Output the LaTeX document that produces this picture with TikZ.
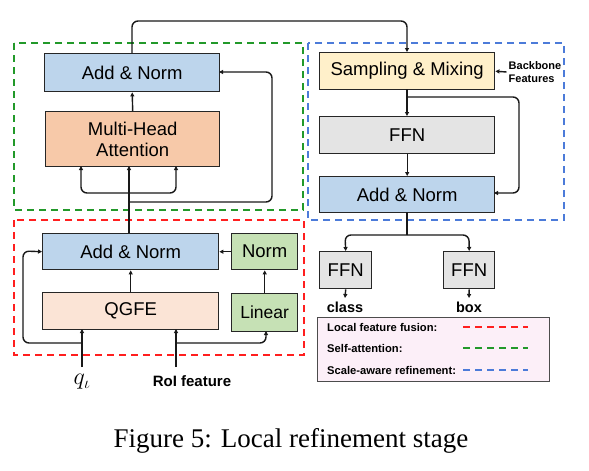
\RequirePackage{fix-cm}
\documentclass[tikz,border=0pt]{standalone}
\usepackage{fontspec}
\setmainfont{Liberation Serif}
\setsansfont{Liberation Sans}
\usetikzlibrary{arrows.meta}
\definecolor{anblue}{HTML}{BDD5EC}
\definecolor{mhaor}{HTML}{F7C9A9}
\definecolor{smyel}{HTML}{FFF0CA}
\definecolor{ffngr}{HTML}{E4E4E4}
\definecolor{qgpe}{HTML}{FBE4D6}
\definecolor{grn}{HTML}{C6E1B5}
\definecolor{legpk}{HTML}{FCEFF8}
\definecolor{dred}{HTML}{FF1F1F}
\definecolor{dgreen}{HTML}{22992A}
\definecolor{dblue}{HTML}{4C7BD9}
\begin{document}
\begin{tikzpicture}[x=1pt,y=-1pt,
  blk/.style={draw=black!85,line width=1.4pt,inner sep=0pt,align=center,
    font=\sffamily\fontsize{18.5}{21}\selectfont},
  conn/.style={line width=1.4pt,black!90,rounded corners=6pt},
  arr/.style={conn,-{Triangle[length=4pt,width=4pt]}},
  grp/.style={line width=1.8pt,dash pattern=on 7pt off 5pt},
  lbl/.style={font=\sffamily\bfseries\fontsize{14.5}{16}\selectfont,inner sep=0pt},
  legt/.style={font=\sffamily\bfseries\fontsize{11.2}{13}\selectfont,anchor=west,inner sep=0pt}]
\useasboundingbox (0,0) rectangle (589,471);
\fill[white] (0,0) rectangle (589,471);
% group boxes
\draw[grp,dgreen] (14,43) rectangle (303,210);
\draw[grp,dblue] (308,43) rectangle (564,220);
\draw[grp,dred] (14,220) rectangle (304,355);
% self attention
\node[blk,fill=anblue,minimum width=175pt,minimum height=38pt,anchor=north west] (an1) at (44,53) {Add \& Norm};
\node[blk,fill=mhaor,minimum width=174pt,minimum height=55pt,anchor=north west] (mha) at (45,111) {Multi-Head\\Attention};
% local feature fusion
\node[blk,fill=anblue,minimum width=176pt,minimum height=36pt,anchor=north west] (an0) at (42,233) {Add \& Norm};
\node[blk,fill=qgpe,minimum width=176pt,minimum height=37pt,anchor=north west] (qgfe) at (42,292) {QGFE};
\node[blk,fill=grn,minimum width=66pt,minimum height=36pt,anchor=north west] (norm) at (231,233) {Norm};
\node[blk,fill=grn,minimum width=66pt,minimum height=38pt,anchor=north west,font=\sffamily\fontsize{17.5}{20}\selectfont] (lin) at (231,293) {Linear};
% scale-aware
\node[blk,fill=smyel,minimum width=175pt,minimum height=37pt,anchor=north west] (sm) at (319,52) {Sampling \& Mixing};
\node[blk,fill=ffngr,minimum width=175pt,minimum height=37pt,anchor=north west] (ffn) at (319,116) {FFN};
\node[blk,fill=anblue,minimum width=175pt,minimum height=36pt,anchor=north west] (an2) at (319,176) {Add \& Norm};
\node[blk,fill=ffngr,minimum width=52pt,minimum height=37pt,anchor=north west] (ffnc) at (319,251) {FFN};
\node[blk,fill=ffngr,minimum width=51pt,minimum height=37pt,anchor=north west] (ffnb) at (443,251) {FFN};
% labels
\node[font=\fontsize{24}{28}\selectfont,inner sep=0pt] (ql) at (82,382) {$q_\iota$};
\node[lbl,font=\sffamily\bfseries\fontsize{15}{17}\selectfont] (roi) at (192,381) {RoI feature};
\node[lbl] (cls) at (345,307) {class};
\node[lbl] (box) at (469,307) {box};
\node[font=\sffamily\bfseries\fontsize{11}{13}\selectfont,align=left,inner sep=0pt] (bb) at (535,72) {Backbone\\Features};
% coordinates
\coordinate (qin) at (82,367);
\coordinate (rin) at (176,367);
\coordinate (split) at (407,235);
\coordinate (cc) at (345,298);
\coordinate (bc) at (469,298);
% local fusion connectors
\draw[arr] (qin) -- (82,329);
\draw[arr] (82,343) -- (23,343) -- (23,251) -- (an0.west);
\draw[arr] (rin) -- (176,329);
\draw[arr] (176,343) -- (266,343) -- (266,331);
\draw[arr] (lin.north) -- (norm.south);
\draw[arr] (norm.west) -- (an0.east);
\draw[arr] (qgfe.north) -- (an0.south);
% self attention connectors
\draw[arr] (129,233) -- (129,166);
\draw[arr] (129,193) -- (81,193) -- (81,166);
\draw[arr] (129,193) -- (176,193) -- (176,166);
\draw[arr] (129,202) -- (272,202) -- (272,72) -- (219,72);
\draw[arr] (mha.north) -- (an1.south);
\draw[arr] (132,53) -- (132,21) -- (407,21) -- (407,52);
% scale aware connectors
\draw[arr] (bb.west) ++(-2,0) -- (sm.east);
\draw[arr] (407,89) -- (407,116);
\draw[arr] (407,97) -- (519,97) -- (519,193) -- (494,193);
\draw[arr] (ffn.south) -- (an2.north);
\draw[conn] (407,212) -- (split);
\draw[arr] (split) -- (345,235) -- (ffnc.north);
\draw[arr] (split) -- (469,235) -- (ffnb.north);
\draw[arr] (ffnc.south) -- (cc);
\draw[arr] (ffnb.south) -- (bc);
% legend
\node[draw=black!70,line width=1.2pt,fill=legpk,minimum width=232pt,minimum height=64pt,anchor=north west] (leg) at (317,317) {};
\node[legt] (l1) at (327,327) {Local feature fusion:};
\node[legt] (l2) at (327,348) {Self-attention:};
\node[legt] (l3) at (327,370) {Scale-aware refinement:};
\coordinate (d1a) at (463,327); \coordinate (d1b) at (528,327);
\coordinate (d2a) at (463,348); \coordinate (d2b) at (528,348);
\coordinate (d3a) at (463,370); \coordinate (d3b) at (528,370);
\draw[grp,dred] (d1a) -- (d1b);
\draw[grp,dgreen] (d2a) -- (d2b);
\draw[grp,dblue] (d3a) -- (d3b);
% caption
\node[font=\rmfamily\fontsize{27}{31}\selectfont,inner sep=0pt] (cap) at (291,441) {Figure 5: Local refinement stage};
\end{tikzpicture}
\end{document}
